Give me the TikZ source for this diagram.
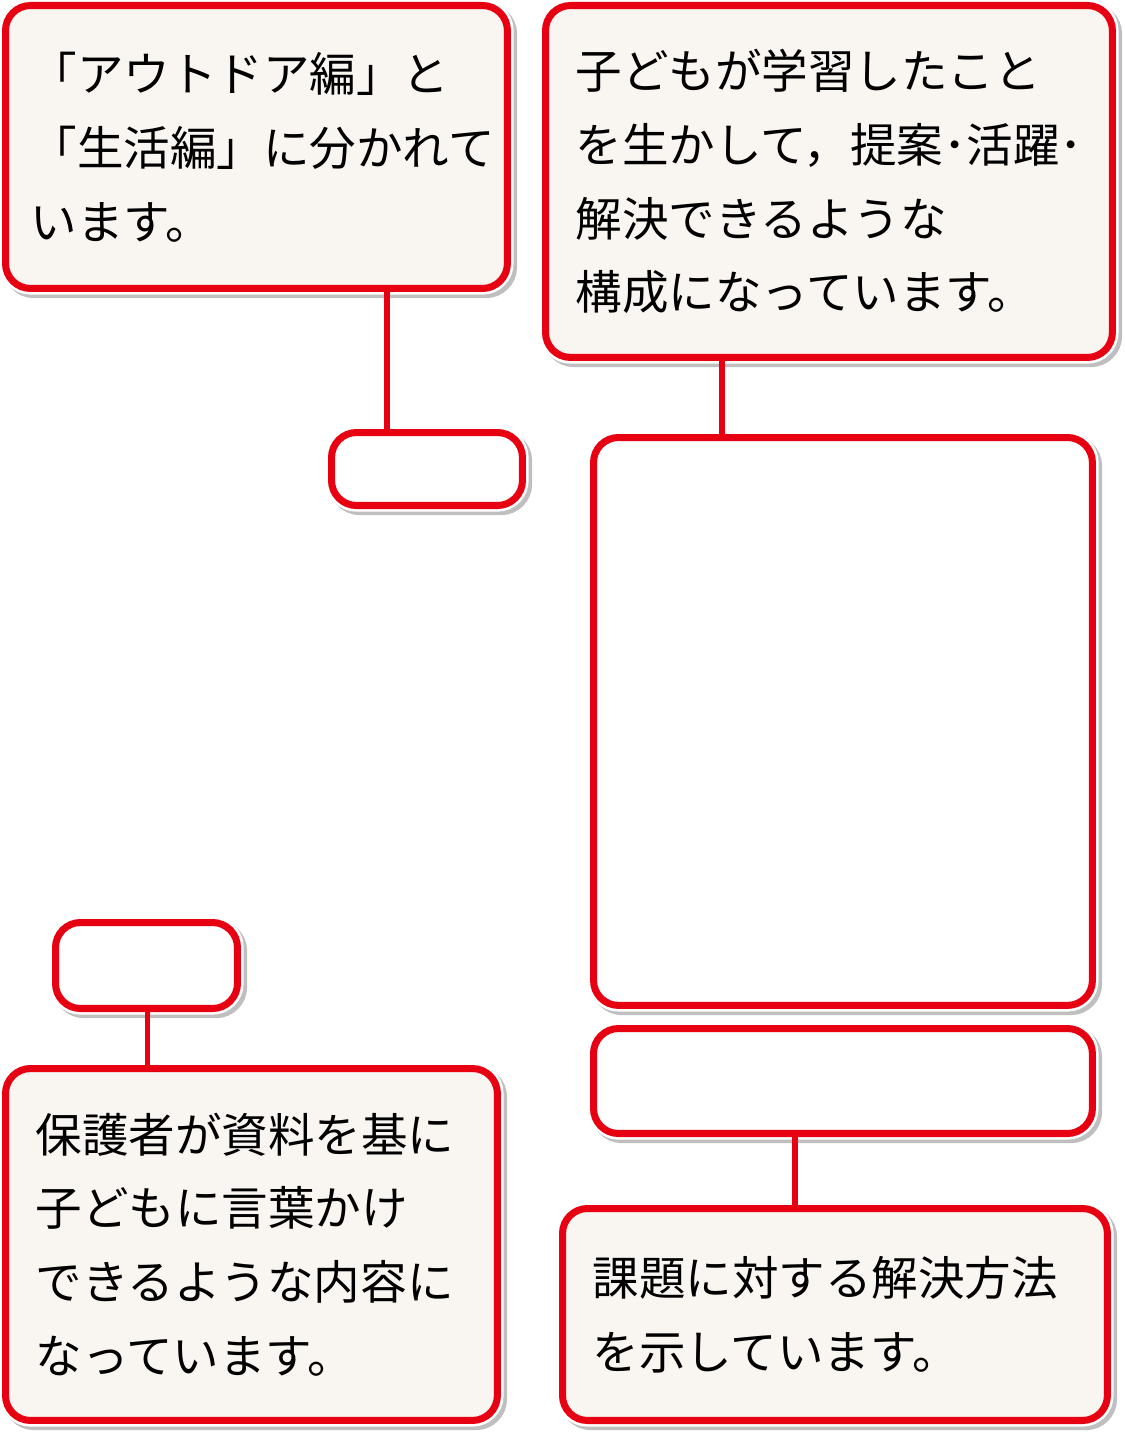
\documentclass[tikz,border=0pt]{standalone}
\usepackage{fontspec}
\newfontfamily\jpfont{Noto Sans CJK JP}
\usepackage{tikz}
\usetikzlibrary{positioning}
\definecolor{boxred}{HTML}{E60012}
\definecolor{boxfill}{HTML}{F9F5F1}
\tikzset{callout/.style={draw=boxred,line width=4pt,rounded corners=0.5cm,fill=boxfill,
  anchor=north west,inner xsep=0.6cm,inner ysep=0pt,align=left,
  font=\jpfont\fontsize{26.5}{42}\selectfont,
  preaction={draw=black!25,line width=7pt,transform canvas={xshift=2pt,yshift=-2pt}},
  preaction={draw=white,line width=7pt}}}
\tikzset{blank/.style={callout,fill=white}}
\tikzset{leader/.style={draw=boxred,line width=3pt}}

\begin{document}
\begin{tikzpicture}[x=0.02cm,y=-0.02cm]
\useasboundingbox (0,0) rectangle (1125,1436);
% text boxes
\node[callout,text width=9.04cm,minimum height=5.66cm,inner xsep=0.5cm] (outdoor) at (2,2)
  {「アウトドア編」と\\「生活編」に分かれて\\います。};
\node[callout,text width=10.14cm,minimum height=7.04cm] (learn) at (542,2)
  {子どもが学習したこと\\を生かして，提案･活躍･\\解決できるような\\構成になっています。};
\node[callout,text width=8.64cm,minimum height=7.04cm] (parent) at (2,1065)
  {保護者が資料を基に\\子どもに言葉かけ\\できるような内容に\\なっています。};
\node[callout,text width=9.7cm,minimum height=4.24cm] (solve) at (559,1205)
  {課題に対する解決方法\\を示しています。};
% empty frames
\node[blank,minimum width=3.82cm,minimum height=1.46cm,inner xsep=0pt] (tagA) at (328,429) {};
\node[blank,minimum width=9.98cm,minimum height=11.36cm,inner xsep=0pt] (page) at (590,434) {};
\node[blank,minimum width=9.98cm,minimum height=2.1cm,inner xsep=0pt] (strip) at (590,1025) {};
\node[blank,minimum width=3.64cm,minimum height=1.72cm,inner xsep=0pt] (tagB) at (52,919) {};
% leaders
\draw[leader] (outdoor.south west -| tagA.north) ++(-40,0) coordinate (oA) -- (oA |- tagA.north);
\draw[leader] (page.north west) ++(132,0) coordinate (pA) -- (pA |- learn.south);
\draw[leader] (tagB.south) ++(1,0) coordinate (tB) -- (tB |- parent.north);
\draw[leader] (strip.south) ++(-48,0) coordinate (sB) -- (sB |- solve.north);
\end{tikzpicture}
\end{document}
